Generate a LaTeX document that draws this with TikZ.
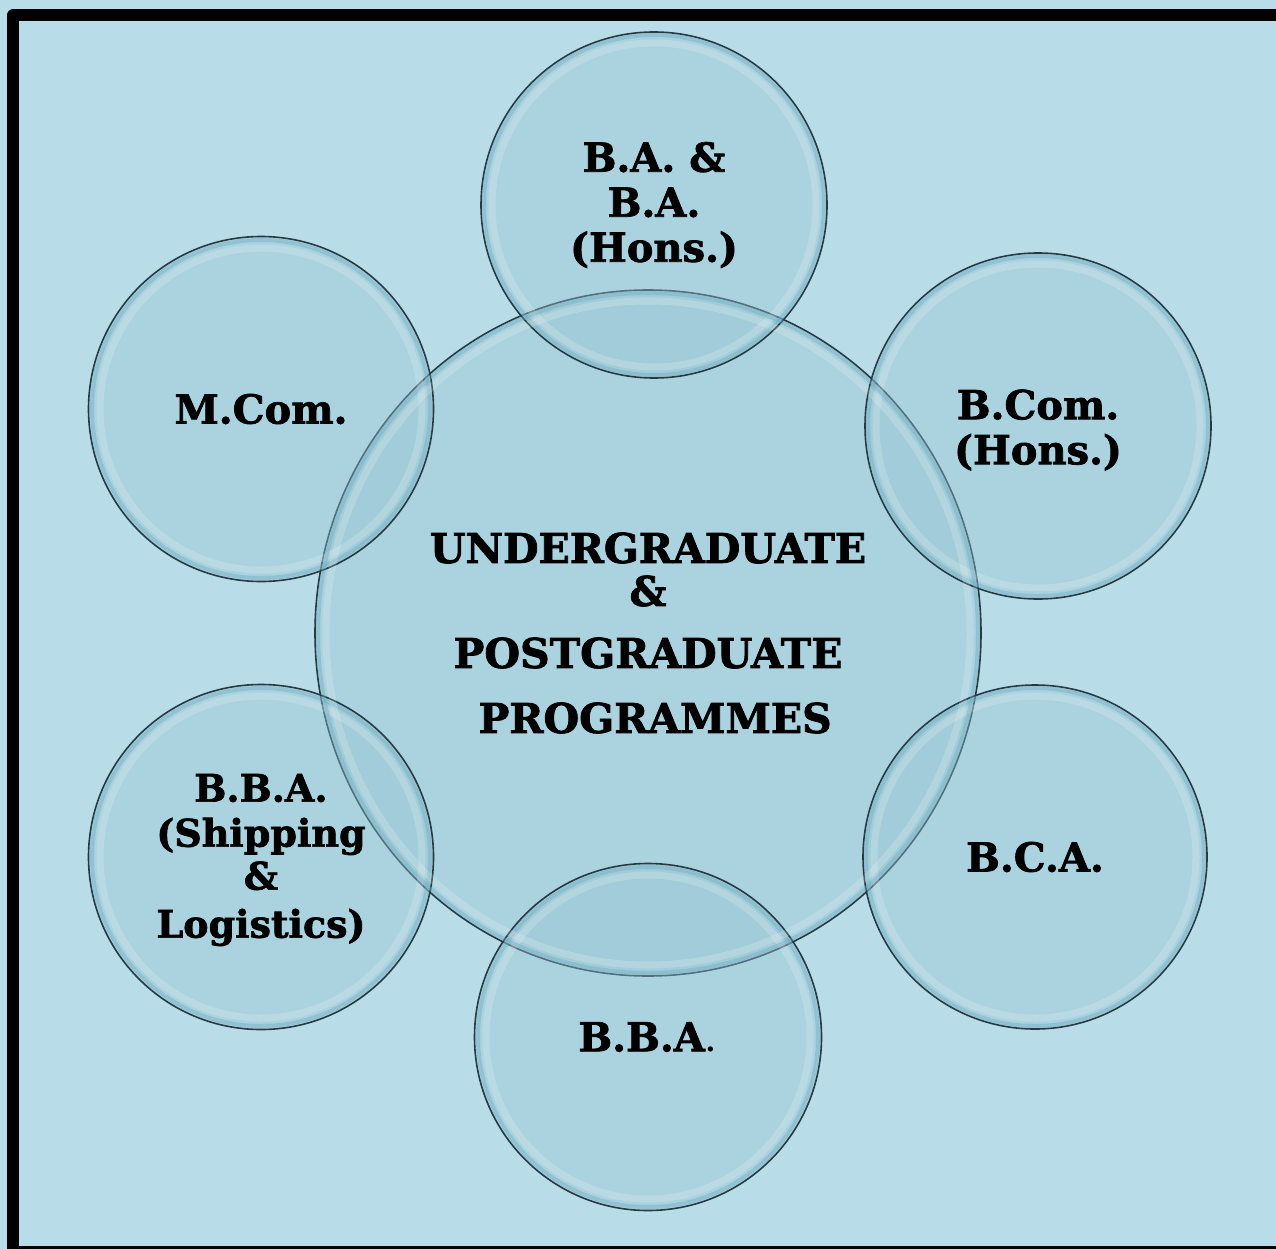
\documentclass[tikz,border=0pt]{standalone}
\usepackage{fontspec}
\setmainfont{DejaVu Serif}[BoldFeatures={FakeBold=1.8}]
\usetikzlibrary{shapes.geometric}
\definecolor{bg}{RGB}{184,221,232}
\definecolor{bubfill}{RGB}{150,195,210}
\definecolor{bubedge}{RGB}{38,58,68}
\definecolor{bubband}{RGB}{110,170,190}
\tikzset{
  bubble/.style={circle, inner sep=0pt, minimum size=#1, fill=bubfill, fill opacity=0.4,
    draw=bubedge, draw opacity=1, line width=1.6pt, text opacity=1},
  bigbubble/.style={ellipse, inner sep=0pt, minimum width=666pt, minimum height=686pt, fill=bubfill, fill opacity=0.4,
    draw=bubedge, draw opacity=1, line width=1.6pt, text opacity=1},
  lbl/.style={align=center, font=\bfseries\fontsize{40}{45}\selectfont, text=black, inner sep=0pt},
  biglbl/.style={align=center, font=\bfseries\fontsize{41}{45}\selectfont, text=black, inner sep=0pt},
  band/.style={draw=bubband, opacity=0.4, line width=4pt},
  shine/.style={draw=white, opacity=0.18, line width=7pt}
}
\begin{document}
\begin{tikzpicture}[x=1pt,y=-1pt]
\useasboundingbox (0,0) rectangle (1276,1249);
\fill[bg] (0,0) rectangle (1276,1249);
\begin{scope}
\clip (0,0) rectangle (1276,1249);
\draw[line width=12pt, line join=round] (13,15.5) rectangle (1300,1252);
\end{scope}
% bubbles
\node[bigbubble] (c) at (648,633) {};
\node[bubble=346pt] (ba) at (654,205) {};
\node[bubble=345pt] (mcom) at (261,409) {};
\node[bubble=346pt] (bcom) at (1038,426) {};
\node[bubble=345pt] (ship) at (261,857) {};
\node[bubble=344pt] (bca) at (1035,857) {};
\node[bubble=347pt] (bba) at (648,1037) {};
% highlights
\foreach \x/\y/\r in {654/205/173, 261/409/172, 1038/426/173, 261/857/172, 1035/857/172, 648/1037/173}{
  \draw[band] (\x,\y) circle (\r-3);
  \draw[shine] (\x,\y) circle (\r-11);
}
\draw[band] (648,633) ellipse (330 and 340);
\draw[shine] (648,633) ellipse (322 and 332);
% labels
\node[lbl] (tba) at (ba) {B.A. \&\\B.A.\\(Hons.)};
\node[lbl] (tmcom) at (mcom) {M.Com.};
\node[lbl] (tbcom) at ([yshift=-4pt]bcom) {B.Com.\\(Hons.)};
\node[lbl, font=\bfseries\fontsize{38}{45}\selectfont] (tship) at ([yshift=-3pt]ship) {B.B.A.\\(Shipping\\[-2pt]\&\\[3pt]Logistics)};
\node[lbl] (tbca) at (bca) {B.C.A.};
\node[lbl] (tbba) at (bba) {B.B.A\mdseries.};
\node[biglbl] (tc) at (c) {UNDERGRADUATE\\[-2pt]\&\\[17pt]POSTGRADUATE\\[20pt]\ PROGRAMMES};
\end{tikzpicture}
\end{document}
